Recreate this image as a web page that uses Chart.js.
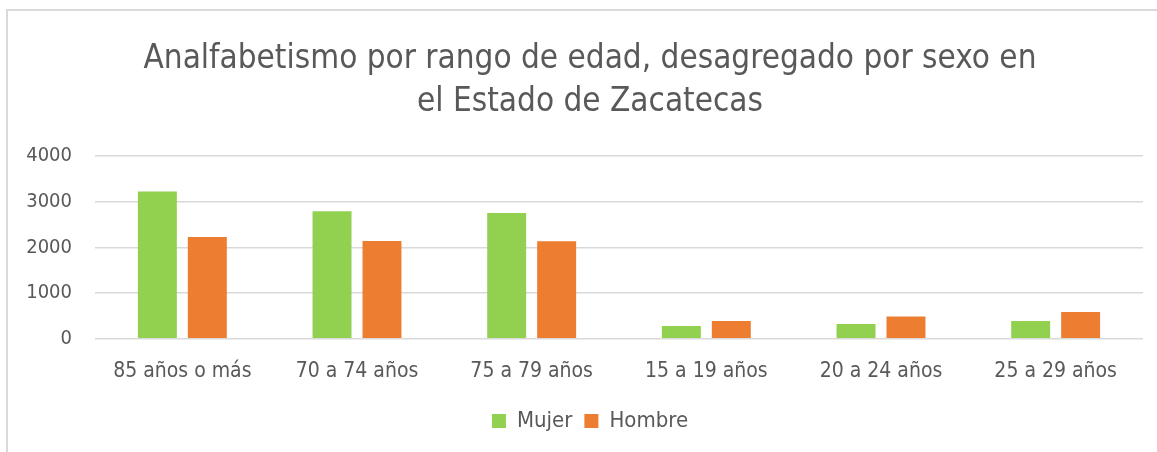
<!DOCTYPE html>
<html>
<head>
<meta charset="utf-8">
<script src="https://cdn.jsdelivr.net/npm/chart.js@4.4.1/dist/chart.umd.min.js"></script>
<style>
  html, body { margin: 0; padding: 0; background: #fff; overflow: hidden; width: 1157px; height: 452px; }
  #frame { position: absolute; left: 6px; top: 9px; width: 1200px; height: 500px;
           border-left: 2px solid #d9d9d9; border-top: 2px solid #d9d9d9; box-sizing: border-box; }
  #c { position: absolute; left: 8px; top: 11px; }
</style>
</head>
<body>
<div id="frame"></div>
<canvas id="c" width="1164" height="441"></canvas>
<script>
const categories = ["85 años o más", "70 a 74 años", "75 a 79 años", "15 a 19 años", "20 a 24 años", "25 a 29 años"];
const mujer = [3220, 2790, 2750, 280, 322, 387];
const hombre = [2227, 2140, 2132, 387, 490, 584];
const yTicks = [0, 1000, 2000, 3000, 4000];
const titleLines = ["Analfabetismo por rango de edad, desagregado por sexo en", "el Estado de Zacatecas"];

const FONT = "'DejaVu Sans Condensed', 'Liberation Sans Narrow', 'Open Sans', sans-serif";
const GRAY = '#595959';

new Chart(document.getElementById('c'), {
  type: 'bar',
  data: {
    labels: categories,
    datasets: [
      { label: 'Mujer', data: mujer, backgroundColor: '#92D050', categoryPercentage: 0.572, barPercentage: 0.78 },
      { label: 'Hombre', data: hombre, backgroundColor: '#ED7D31', categoryPercentage: 0.572, barPercentage: 0.78 }
    ]
  },
  options: {
    responsive: false,
    animation: false,
    devicePixelRatio: 1,
    layout: { padding: { left: 0, right: 0, top: 0, bottom: 10 } },
    plugins: {
      title: {
        display: true,
        text: titleLines,
        color: GRAY,
        font: { family: FONT, size: 33, weight: 'normal', lineHeight: 1.3 },
        padding: { top: 27, bottom: 32 }
      },
      legend: {
        position: 'bottom',
        labels: {
          color: GRAY,
          font: { family: FONT, size: 22 },
          boxWidth: 14, boxHeight: 14,
          padding: 12
        }
      },
      tooltip: { enabled: false }
    },
    scales: {
      x: {
        afterFit: (s) => { s.height = s.height - 6; },
        grid: { display: false, drawTicks: false },
        border: { display: false },
        ticks: { color: GRAY, font: { family: FONT, size: 21 }, padding: 20, maxRotation: 0 }
      },
      y: {
        min: 0, max: 4000,
        afterBuildTicks: (s) => { s.ticks = yTicks.map(v => ({ value: v })); },
        afterFit: (s) => { s.width = 87; },
        grid: { color: '#d9d9d9', lineWidth: 1.5, drawTicks: false },
        border: { display: false },
        ticks: { color: GRAY, font: { family: FONT, size: 20 }, padding: 23, callback: (v) => String(v) }
      },
      yR: {
        position: 'right',
        min: 0, max: 4000,
        afterFit: (s) => { s.width = 29; },
        grid: { display: false, drawTicks: false },
        border: { display: false },
        ticks: { display: false }
      }
    }
  }
});
</script>
</body>
</html>
